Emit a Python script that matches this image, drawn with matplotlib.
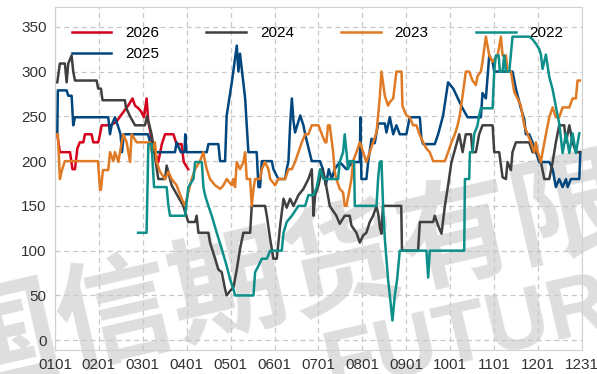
import matplotlib
matplotlib.use("Agg")
import matplotlib.pyplot as plt

plt.rcParams['font.family'] = ['Liberation Sans', 'Noto Sans CJK SC', 'DejaVu Sans']

# x轴: 按月等距, 每月30个单位
tick_pos = [0, 30, 60, 90, 120, 150, 180, 210, 240, 270, 300, 330, 360]
tick_labels = ['0101', '0201', '0301', '0401', '0501', '0601', '0701',
               '0801', '0901', '1001', '1101', '1201', '1231']

d2026 = [1.6, 3.4, 10.3, 12.0, 13.7, 15.3, 17.0, 19.4, 20.5, 25.0, 26.2, 29.6, 30.8, 31.9, 38.0,
         42.0, 45.0, 50.0, 53.0, 54.7, 57.0, 59.0, 60.8, 62.6, 63.7, 66.0, 68.3, 70.6, 73.0, 75.2,
         80.9, 83.1, 86.5, 88.0, 91.0]
v2026 = [230, 210, 210, 191, 191, 214, 221, 221, 230, 230, 221, 221, 230, 240, 240,
         244, 251, 262, 270, 262, 259, 255, 249, 270, 245, 225, 210, 199, 219, 230,
         230, 219, 219, 199, 191]

d2025 = [1.6, 2.0, 8.0, 9.1, 11.4, 12.5, 13.7, 36.4, 37.6, 38.7, 41.0, 43.3, 44.8, 45.8, 47.0,
         63.6, 65.0, 67.5, 82.0, 83.1, 86.0, 88.5, 89.0, 89.8, 103.7, 104.8, 111.6, 112.8, 116.2,
         117.3, 120.8, 124.2, 125.3, 126.4, 127.6, 129.9, 132.1, 137.8, 139.0, 140.1, 141.3, 148.1,
         149.2, 152.6, 157.2, 158.3, 159.5, 160.6, 161.8, 162.9, 164.0, 167.5, 169.7, 170.9, 173.1,
         175.4, 181.0, 183.0, 185.0, 187.0, 189.0, 191.0, 194.5, 199.0, 203.6, 208.2, 208.6, 209.3,
         212.7, 213.9, 216.2, 218.4, 220.7, 225.3, 226.4, 228.7, 231.0, 233.2, 235.5, 240.0, 242.3,
         249.2, 250.3, 251.5, 259.4, 261.7, 265.1, 268.5, 272.0, 278.4, 281.8, 290.9, 292.0, 294.3,
         296.6, 298.9, 300.0, 312.5, 314.8, 318.2, 320.5, 321.6, 323.9, 326.2, 328.5, 330.8, 337.6,
         339.9, 342.1, 344.4, 346.7, 349.0, 350.1, 352.4, 358.1, 358.8]
v2025 = [230, 279, 279, 273, 273, 240, 249, 249, 230, 240, 249, 238, 230, 210, 230,
         230, 221, 210, 210, 221, 210, 210, 230, 210, 210, 219, 219, 200, 200,
         251, 288, 329, 300, 320, 303, 270, 210, 210, 171, 171, 200, 200,
         191, 180, 180, 191, 200, 240, 270, 245, 232, 251, 240, 230, 215,
         200, 200, 191, 173, 191, 180, 191, 199, 191, 199, 199, 249, 180,
         180, 199, 225, 220, 242, 242, 232, 249, 230, 240, 230, 230, 249,
         249, 225, 219, 219, 230, 251, 288, 281, 259, 249, 249, 276, 270,
         318, 311, 300, 300, 281, 259, 247, 230, 230, 221, 210, 199, 199,
         191, 171, 180, 171, 180, 171, 180, 180, 210]

d2024 = [1.6, 3.4, 6.8, 8.0, 9.1, 11.4, 12.5, 13.7, 28.5, 29.5, 31.4, 32.5, 47.8, 48.5, 51.3,
         54.7, 61.5, 62.9, 64.5, 66.0, 67.2, 70.6, 75.2, 76.3, 78.6, 79.7, 87.7, 88.9, 91.1, 95.7,
         96.8, 98.0, 104.8, 105.9, 109.4, 111.6, 113.9, 116.2, 117.3, 119.6, 121.9, 124.2, 126.4,
         128.7, 133.3, 134.4, 143.5, 144.7, 147.0, 149.2, 151.5, 153.8, 156.1, 158.3, 160.6, 162.9,
         166.3, 169.7, 173.1, 175.4, 176.6, 177.7, 180.0, 182.3, 184.5, 185.4, 187.7, 192.2, 194.5,
         197.9, 201.3, 202.5, 205.9, 208.2, 210.5, 212.7, 215.0, 217.3, 219.6, 221.0, 222.0, 223.0,
         224.0, 236.5, 237.0, 248.0, 249.2, 258.3, 259.4, 261.7, 264.0, 266.3, 268.5, 270.8, 272.7,
         276.1, 278.4, 280.6, 284.1, 285.2, 287.5, 289.7, 292.0, 298.9, 300.0, 303.4, 305.7, 308.0,
         309.1, 311.4, 312.5, 314.8, 323.9, 326.2, 329.6, 331.9, 334.2, 337.6, 339.9, 342.1, 344.4,
         347.8, 349.0, 351.3, 353.5, 355.8, 358.5]
v2024 = [288, 309, 309, 288, 309, 318, 300, 290, 290, 281, 281, 268, 268, 260, 250,
         240, 240, 250, 240, 230, 217, 180, 180, 195, 180, 173, 150, 143, 132, 132,
         139, 120, 120, 109, 91, 79, 76, 57, 50, 55, 59, 79, 102,
         120, 120, 150, 150, 139, 113, 91, 91, 128, 158, 148, 158, 150,
         162, 169, 180, 191, 139, 162, 173, 191, 180, 171, 150, 139, 130,
         139, 139, 128, 120, 109, 117, 120, 132, 139, 150, 139, 125, 119,
         150, 150, 100, 100, 132, 132, 139, 128, 119, 150, 173, 199, 210,
         230, 210, 230, 230, 210, 210, 230, 240, 240, 210, 210, 182, 180,
         199, 190, 210, 221, 221, 210, 210, 199, 180, 180, 199, 221, 240,
         240, 221, 240, 221, 210, 210]

d2023 = [1.6, 2.0, 3.4, 4.8, 6.8, 29.4, 30.8, 31.4, 32.8, 36.4, 37.6, 39.9, 41.0, 43.3, 45.6,
         46.7, 49.0, 51.3, 52.4, 55.8, 64.9, 66.1, 68.3, 69.5, 71.8, 75.2, 77.5, 79.7, 83.1, 86.6,
         88.8, 91.1, 93.4, 95.7, 99.1, 101.4, 102.5, 103.7, 105.9, 109.4, 112.8, 115.1, 117.3, 120.8,
         121.9, 123.0, 124.2, 126.4, 128.7, 129.9, 131.0, 133.3, 134.4, 135.6, 136.7, 140.1, 141.3,
         143.5, 145.8, 147.0, 150.4, 152.6, 157.2, 159.5, 161.8, 164.0, 166.3, 168.6, 170.9, 173.1,
         175.4, 180.0, 182.3, 184.5, 185.4, 186.5, 187.7, 190.0, 191.1, 192.2, 194.5, 196.8, 197.9,
         199.1, 201.3, 202.5, 203.6, 205.9, 208.2, 210.5, 212.7, 215.0, 217.3, 219.6, 221.8, 223.0,
         225.3, 227.5, 228.7, 231.0, 233.2, 236.7, 237.3, 238.9, 240.1, 242.3, 244.6, 246.9, 249.2,
         251.5, 253.7, 256.0, 258.3, 266.3, 268.5, 270.8, 273.1, 275.0, 276.5, 278.4, 280.6, 282.9,
         285.2, 287.5, 288.6, 290.9, 292.0, 293.2, 294.3, 296.6, 298.9, 302.3, 304.6, 305.7, 308.0,
         309.1, 311.4, 313.7, 315.9, 318.2, 320.5, 322.8, 325.1, 327.3, 328.5, 329.6, 331.9, 333.0,
         335.3, 337.6, 339.9, 342.1, 344.4, 346.7, 351.3, 353.5, 355.8, 356.9, 358.5]
v2023 = [230, 230, 180, 190, 200, 200, 168, 168, 190, 190, 210, 200, 210, 199, 221,
         230, 221, 199, 230, 221, 221, 210, 221, 199, 188, 180, 188, 180, 173, 158,
         150, 165, 180, 191, 200, 210, 199, 191, 180, 173, 169, 173, 180, 173,
         180, 171, 199, 191, 199, 210, 180, 180, 150, 169, 180, 180, 191,
         199, 191, 180, 173, 180, 180, 191, 191, 199, 210, 221, 230, 230,
         240, 240, 230, 221, 221, 240, 240, 210, 188, 180, 169, 165, 150,
         150, 169, 180, 200, 210, 221, 210, 199, 210, 221, 232, 270, 300,
         273, 262, 266, 270, 300, 300, 262, 255, 251, 249, 240, 240, 229,
         221, 214, 210, 200, 200, 210, 221, 230, 240, 251, 273, 300, 300,
         290, 285, 295, 300, 311, 326, 339, 318, 311, 318, 339, 318, 318,
         300, 300, 277, 270, 262, 240, 230, 221, 210, 221, 210, 199, 210,
         230, 249, 260, 249, 249, 260, 260, 270, 270, 290, 290]

d2022 = [56.8, 62.6, 63.8, 66.0, 67.7, 76.3, 77.5, 78.6, 88.9, 91.1, 94.6, 95.7, 100.3, 101.4,
         102.5, 104.8, 107.1, 110.5, 113.9, 117.3, 119.6, 121.9, 123.0, 135.6, 136.7, 139.0, 141.3,
         144.7, 147.0, 154.9, 156.1, 158.3, 161.8, 166.3, 170.9, 173.1, 176.6, 178.8, 181.1, 183.4,
         185.4, 193.4, 194.5, 196.8, 197.9, 199.1, 200.2, 201.3, 204.3, 204.8, 219.6, 220.7, 221.8,
         223.0, 224.1, 225.3, 227.5, 228.7, 230.5, 232.1, 233.7, 235.5, 253.7, 254.9, 256.0, 279.5,
         280.0, 282.9, 283.4, 285.2, 286.3, 288.6, 289.7, 290.9, 298.9, 300.0, 301.1, 303.0, 303.9,
         305.7, 306.8, 308.0, 310.3, 312.5, 323.9, 326.2, 328.5, 330.8, 331.9, 333.0, 335.3, 337.6,
         339.9, 342.1, 344.4, 346.7, 349.0, 351.3, 353.5, 355.8, 358.1]
v2022 = [120, 120, 219, 219, 171, 171, 150, 139, 139, 171, 180, 199, 199, 171,
         162, 150, 139, 120, 102, 83, 68, 57, 50, 50, 76, 83, 91,
         91, 100, 100, 120, 132, 139, 150, 150, 162, 162, 171, 191, 180,
         180, 180, 199, 210, 230, 210, 191, 200, 200, 150, 150, 180, 199,
         200, 150, 113, 68, 50, 22, 50, 68, 100, 100, 70, 100, 100,
         180, 180, 210, 210, 230, 240, 251, 259, 259, 300, 318, 318, 300,
         300, 318, 300, 300, 339, 339, 336, 331, 325, 319, 303, 319, 294,
         280, 261, 242, 209, 231, 209, 231, 209, 231]

series = [
    ('2026', d2026, v2026, '#d5001c'),
    ('2025', d2025, v2025, '#00467f'),
    ('2024', d2024, v2024, '#404040'),
    ('2023', d2023, v2023, '#e07a24'),
    ('2022', d2022, v2022, '#0d8f8a'),
]

fig = plt.figure(figsize=(5.97, 3.74), dpi=100)
ax = fig.add_axes([0.092, 0.064, 0.883, 0.917])
ax.set_facecolor('none')

# 水印, 画在坐标轴后面
fig.text(0.67, 0.329, '国信期货有限公司', fontsize=84, fontweight='bold', color='#c8c8c8',
         alpha=0.6, rotation=13, rotation_mode='anchor', ha='center', va='center', zorder=-1,
         family=['Noto Sans CJK SC'])
fig.text(0.553, -0.045, 'FUTURES', fontsize=62, fontweight='bold', color='#c8c8c8',
         alpha=0.6, rotation=13, rotation_mode='anchor', ha='left', va='baseline', zorder=-1)

for name, d, v, c in series:
    ax.plot(d, v, color=c, lw=1.8, label=name)

ax.set_xlim(0, 360)
ax.set_ylim(-11, 372)
ax.set_xticks(tick_pos)
ax.set_xticklabels(tick_labels)
ax.set_yticks(range(0, 351, 50))
ax.tick_params(length=0, labelsize=11, colors='#333333', pad=6)
ax.grid(True, linestyle=(0, (4, 3)), color='#c8c8c8', lw=0.9)
for s in ax.spines.values():
    s.set_color('#d0d0d0')

ax.legend(ncol=4, loc='upper left', bbox_to_anchor=(0.02, 0.962), frameon=False,
          fontsize=11, handlelength=2.6, handletextpad=0.9, columnspacing=3.1,
          labelspacing=0.45, borderaxespad=0)

fig.savefig('out.png', dpi=100)
